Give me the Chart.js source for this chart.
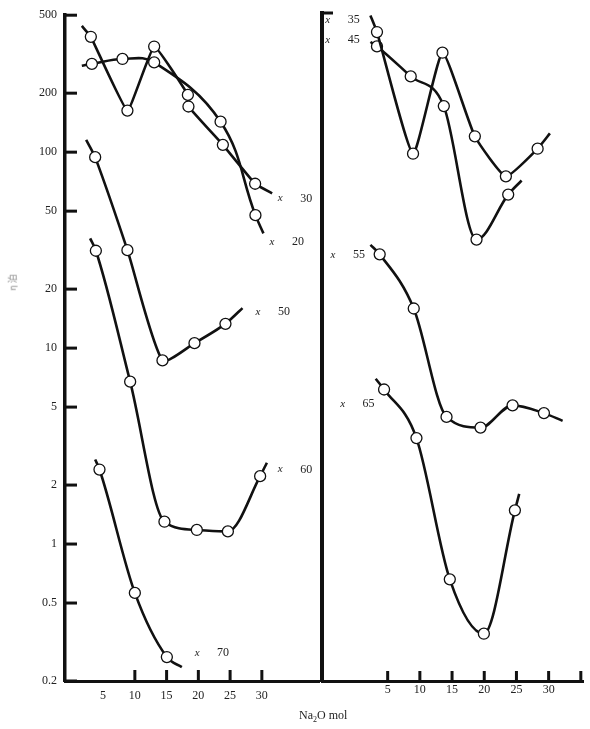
<!DOCTYPE html>
<html>
<head>
<meta charset="utf-8">
<script src="https://cdn.jsdelivr.net/npm/chart.js@4.4.0/dist/chart.umd.min.js"></script>
<style>
  html, body { margin: 0; padding: 0; background: #fff; }
  #wrap { position: relative; width: 590px; height: 729px; overflow: hidden; }
  canvas { position: absolute; left: 0; top: 0; }
  #xtitle { position: absolute; left: 299px; top: 708px; font: 12px "Liberation Serif", serif; color: #222; }
  #xtitle sub { font-size: 8px; }
  #ytitle { position: absolute; left: 4px; top: 276px; font: 9px "Noto Sans CJK SC", serif; color: #888;
            transform: rotate(-90deg); transform-origin: center; }
</style>
</head>
<body>
<div id="wrap">
  <canvas id="leftChart" width="590" height="729"></canvas>
  <canvas id="rightChart" width="590" height="729"></canvas>
  <div id="xtitle">Na<sub>2</sub>O mol</div>
  <div id="ytitle">η 泊</div>
</div>
<script>
// axis ticks
const yTicks = [0.2, 0.5, 1, 2, 5, 10, 20, 50, 100, 200, 500];
const xTickLabels = [5, 10, 15, 20, 25, 30];
const leftTickMarks = [10, 15, 20, 25, 30];
const rightTickMarks = [5, 10, 15, 20, 25, 30, 35];

// left panel (first and last entries are the line ends without a circle)
const na30 = [1.65, 3.07, 8.83, 13.04, 18.35, 18.44, 23.86, 28.94, 31.62];
const eta30 = [441, 388, 163, 346, 196, 171, 109, 69, 61.6];
const na20 = [1.65, 3.23, 8.05, 13.04, 23.5, 28.99, 30.25];
const eta20 = [276, 282, 299, 287, 143, 47.7, 38.5];
const na50 = [2.33, 3.75, 8.83, 14.35, 19.39, 24.27, 26.95];
const eta50 = [115.6, 94.3, 31.6, 8.65, 10.6, 13.3, 16.0];
const na60 = [2.96, 3.86, 9.26, 14.66, 19.76, 24.65, 29.73, 30.79];
const eta60 = [36.3, 31.4, 6.74, 1.30, 1.18, 1.16, 2.22, 2.6];
const na70 = [3.75, 4.43, 10.0, 15.04, 17.4];
const eta70 = [2.70, 2.40, 0.563, 0.265, 0.2356];

// right panel
const na35 = [2.32, 3.34, 8.94, 13.51, 18.54, 23.36, 28.29, 30.2];
const eta35 = [486, 400, 96.2, 314, 118, 73.8, 102, 122];
const na45 = [2.32, 3.34, 8.58, 13.72, 18.8, 23.72, 25.8];
const eta45 = [356, 338, 238, 168, 35.2, 59.6, 70.3];
const na55 = [2.32, 3.76, 9.05, 14.14, 19.42, 24.4, 29.27, 32.17];
const eta55 = [33.1, 29.6, 15.7, 4.41, 3.89, 5.05, 4.61, 4.21];
const na65 = [3.14, 4.44, 9.47, 14.65, 19.94, 24.76, 25.43];
const eta65 = [6.90, 6.08, 3.44, 0.658, 0.348, 1.476, 1.79];

const INK = '#111';
const FONT = '"Liberation Serif", "Times New Roman", serif';

function series(na, eta, tension, monotone) {
  return {
    data: na.map((x, i) => ({ x, y: eta[i] })),
    borderColor: INK,
    borderWidth: 2.6,
    tension: tension,
    cubicInterpolationMode: monotone ? 'monotone' : 'default',
    pointRadius: ctx => (ctx.dataIndex === 0 || ctx.dataIndex === ctx.dataset.data.length - 1) ? 0 : 5.5,
    pointBackgroundColor: '#fff',
    pointBorderColor: INK,
    pointBorderWidth: 1.3,
    fill: false
  };
}

// inward tick marks and curve labels
const marksPlugin = {
  id: 'marks',
  afterDraw(chart, args, opts) {
    const { ctx } = chart;
    const x = chart.scales.x, y = chart.scales.y;
    ctx.save();
    ctx.strokeStyle = INK;
    ctx.lineWidth = 3;
    opts.xMarks.forEach(v => {
      const px = x.getPixelForValue(v);
      ctx.beginPath();
      ctx.moveTo(px, y.bottom);
      ctx.lineTo(px, y.bottom - opts.xLen);
      ctx.stroke();
    });
    opts.yMarks.forEach(v => {
      const py = y.getPixelForValue(v);
      ctx.beginPath();
      ctx.moveTo(x.left, py);
      ctx.lineTo(x.left + opts.yLen, py);
      ctx.stroke();
    });
    ctx.fillStyle = '#222';
    ctx.textBaseline = 'middle';
    ctx.textAlign = 'center';
    opts.labels.forEach(l => {
      const px = x.getPixelForValue(l.x);
      const py = y.getPixelForValue(l.y);
      ctx.font = 'italic 11px ' + FONT;
      ctx.fillText('x', px, py);
      ctx.font = '12px ' + FONT;
      ctx.fillText(l.text, px + 26, py);
    });
    ctx.restore();
  }
};

function makeChart(id, datasets, cfg) {
  return new Chart(document.getElementById(id), {
    type: 'line',
    data: { datasets },
    plugins: [marksPlugin],
    options: {
      responsive: false,
      animation: false,
      layout: { padding: cfg.padding },
      plugins: {
        legend: { display: false },
        tooltip: { enabled: false },
        marks: cfg.marks
      },
      scales: {
        x: {
          type: 'linear',
          min: cfg.xMin,
          max: cfg.xMax,
          grid: { display: false, drawTicks: false },
          border: { color: INK, width: 3 },
          afterBuildTicks: s => { s.ticks = xTickLabels.map(v => ({ value: v })); },
          afterFit: s => { s.height = 48; },
          ticks: { padding: cfg.xPad, color: '#222', autoSkip: false, maxRotation: 0, font: { family: FONT, size: 12 } }
        },
        y: {
          type: 'logarithmic',
          min: 0.2,
          max: 500,
          grid: { display: false, drawTicks: false },
          border: { color: INK, width: cfg.yBorder },
          afterBuildTicks: s => { s.ticks = yTicks.map(v => ({ value: v })); },
          afterFit: s => { s.width = cfg.yWidth; },
          ticks: {
            display: cfg.yLabels,
            padding: 8,
            color: '#222',
            autoSkip: false,
            font: { family: FONT, size: 12 },
            callback: v => String(v)
          }
        }
      }
    }
  });
}

makeChart('leftChart', [
  series(na20, eta20, 0.4, false),
  series(na30, eta30, 0.1, false),
  series(na50, eta50, 0.2, false),
  series(na60, eta60, 0.35, true),
  series(na70, eta70, 0.35, true)
], {
  padding: { left: 0, right: 271, top: 13, bottom: 0 },
  xMin: -1, xMax: 39, xPad: 8, yWidth: 65, yBorder: 3.5, yLabels: true,
  marks: {
    xMarks: leftTickMarks, xLen: 11, yMarks: yTicks, yLen: 12,
    labels: [
      { text: '30', x: 32.9, y: 58.1 },
      { text: '20', x: 31.6, y: 34.7 },
      { text: '50', x: 29.4, y: 15.3 },
      { text: '60', x: 32.9, y: 2.40 },
      { text: '70', x: 19.8, y: 0.279 }
    ]
  }
});

makeChart('rightChart', [
  series(na35, eta35, 0.15, false),
  series(na45, eta45, 0.35, true),
  series(na55, eta55, 0.3, true),
  series(na65, eta65, 0.4, true)
], {
  padding: { left: 322, right: 6.6, top: 13, bottom: 0 },
  xMin: -5.2, xMax: 35.4, xPad: 2, yWidth: 0, yBorder: 4, yLabels: false,
  marks: {
    xMarks: rightTickMarks, xLen: 10, yMarks: [500], yLen: 11,
    labels: [
      { text: '35', x: -4.3, y: 462 },
      { text: '45', x: -4.3, y: 365 },
      { text: '55', x: -3.5, y: 29.5 },
      { text: '65', x: -2.0, y: 5.15 }
    ]
  }
});
</script>
</body>
</html>
